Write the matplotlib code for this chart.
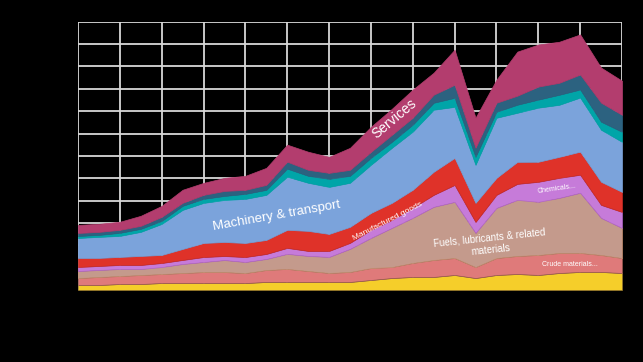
import matplotlib.pyplot as plt

# Imports by product group, $bn
years = list(range(1990, 2017))
food = [56, 56, 67, 67, 78, 78, 78, 78, 78, 90, 90, 90, 90, 90, 112, 134, 146, 146, 168, 134, 168, 179, 168, 190, 202, 202, 190]
crude = [78, 90, 90, 101, 101, 112, 123, 123, 112, 134, 146, 123, 101, 112, 134, 123, 157, 190, 190, 123, 190, 202, 224, 224, 213, 190, 168]
fuels = [78, 78, 78, 67, 78, 101, 112, 134, 123, 123, 168, 168, 179, 258, 336, 437, 504, 594, 627, 381, 560, 627, 594, 616, 672, 414, 336]
chemicals = [45, 45, 45, 45, 45, 45, 56, 45, 56, 56, 67, 56, 67, 67, 90, 90, 112, 134, 190, 123, 146, 179, 224, 224, 202, 146, 179]
manufactured = [101, 90, 90, 101, 90, 123, 157, 157, 157, 157, 202, 224, 190, 179, 190, 190, 202, 258, 302, 213, 190, 246, 224, 235, 258, 258, 224]
machinery = [224, 235, 235, 269, 347, 437, 448, 470, 493, 504, 594, 538, 526, 493, 538, 616, 650, 694, 571, 426, 672, 549, 605, 582, 605, 582, 560]
misc_manuf = [22, 22, 34, 34, 34, 45, 45, 45, 56, 56, 90, 78, 90, 78, 78, 67, 78, 78, 101, 90, 67, 90, 90, 112, 90, 90, 112]
other = [34, 34, 34, 34, 45, 34, 45, 56, 45, 56, 78, 67, 67, 67, 67, 78, 78, 90, 146, 101, 101, 101, 146, 134, 168, 213, 190]
services = [90, 90, 90, 112, 123, 146, 134, 146, 157, 190, 190, 202, 179, 246, 280, 291, 314, 246, 392, 336, 258, 493, 470, 459, 448, 392, 381]

layers = [food, crude, fuels, chemicals, manufactured, machinery, misc_manuf, other, services]
colors = ["#F5CE2A", "#DF7A7A", "#C49A8C", "#C67BD9", "#DF3229",
          "#7BA3DB", "#00A5A8", "#2C6280", "#B33D6E"]
edges = ["#9a7a30", "#9a5a50", "#c89070", "#b065c8", "#c82a24",
         "#7BA3DB", "#00A5A8", "#2C6280", "#B33D6E"]

plt.rcParams["font.family"] = ["Liberation Sans", "DejaVu Sans"]

fig = plt.figure(figsize=(6.43, 3.62), dpi=100, facecolor="black")
ax = fig.add_axes([0.1213, 0.1989, 0.8460, 0.7411], facecolor="black")

polys = ax.stackplot(years, *layers, colors=colors, zorder=2)
for p, ec in zip(polys, edges):
    p.set_edgecolor(ec)
    p.set_linewidth(0.5)

ax.set_xlim(1990, 2016)
ax.set_ylim(0, 3000)
ax.set_xticks(range(1990, 2017, 2))
ax.set_yticks(range(0, 3001, 250))
ax.grid(True, color="#d8d8d8", linewidth=1.3, zorder=0)
ax.set_axisbelow(True)
# axis labels are black on black, as in the original
ax.tick_params(colors="black", labelcolor="black", length=0, labelsize=8)
ax.tick_params(axis="x", pad=10)
ax.tick_params(axis="y", pad=8)
for s in ax.spines.values():
    s.set_visible(False)

txt = dict(color="white", ha="center", va="center", zorder=5)
ax.text(2005.1, 1915, "Services", fontsize=10, rotation=40, **txt)
ax.text(1999.5, 825, "Machinery & transport", fontsize=9.5, rotation=10, **txt)
ax.text(2004.8, 765, "Manufactured goods", fontsize=6, rotation=27, **txt)
ax.text(2009.7, 520, "Fuels, lubricants & related\nmaterials", fontsize=7, rotation=6,
        linespacing=1.25, **txt)
ax.text(2012.9, 1130, "Chemicals...", fontsize=5, rotation=8, **txt)
ax.text(2013.5, 280, "Crude materials...", fontsize=5, rotation=0, **txt)

fig.savefig("out.png", dpi=100, facecolor="black")
